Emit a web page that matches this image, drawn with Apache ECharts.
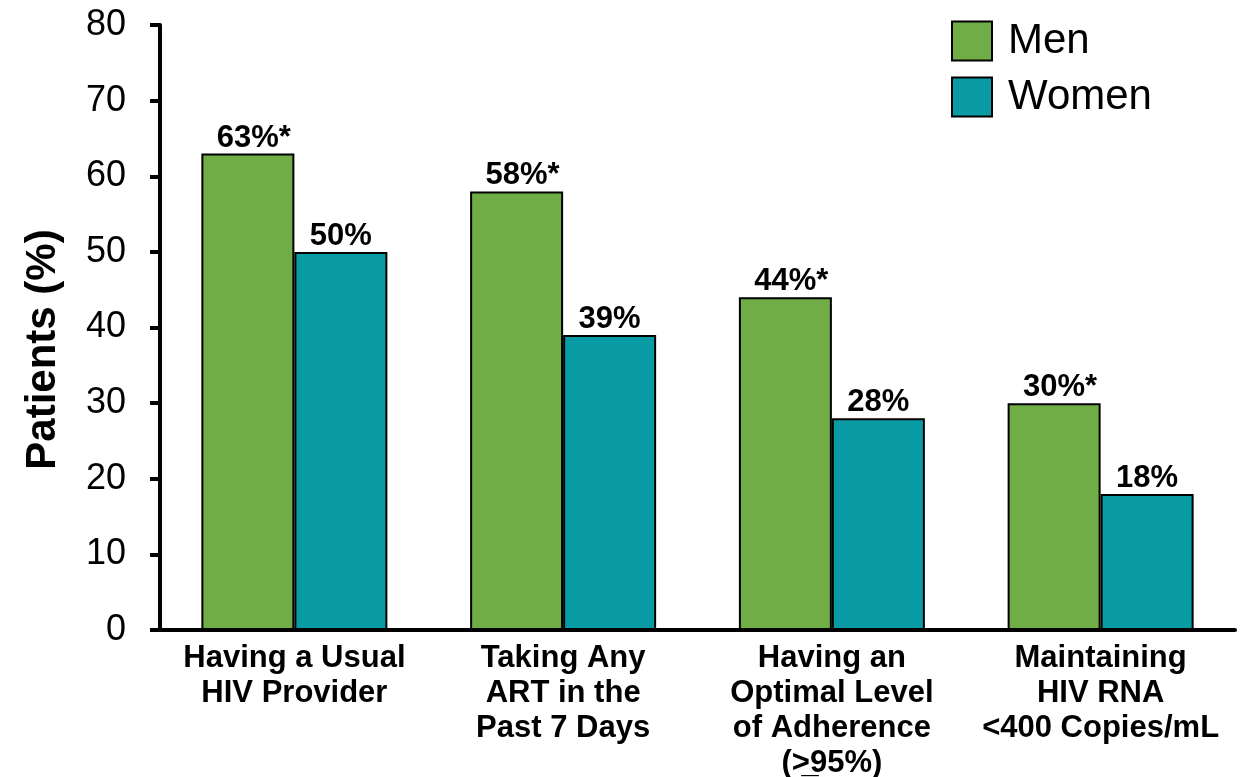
<!DOCTYPE html>
<html>
<head>
<meta charset="utf-8">
<script src="https://cdn.jsdelivr.net/npm/echarts@6/dist/echarts.min.js"></script>
<style>
  html, body { margin: 0; padding: 0; background: #ffffff; }
  #chart { width: 1240px; height: 777px; }
</style>
</head>
<body>
<div id="chart"></div>
<script>
// Care outcomes by sex
const categories = [
  'Having a Usual\nHIV Provider',
  'Taking Any\nART in the\nPast 7 Days',
  'Having an\nOptimal Level\nof Adherence\n(>\u033295%)',
  'Maintaining\nHIV RNA\n<400 Copies/mL'
];
const menValues = [63, 58, 44, 30];
const womenValues = [50, 39, 28, 18];
const yTicks = { min: 0, max: 80, interval: 10 };

const FONT = '"Liberation Sans", Arial, sans-serif';

const chart = echarts.init(document.getElementById('chart'), null, { renderer: 'canvas' });

// value labels above bars; the significance star hangs past the centred percentage
const barLabel = (suffix, padLeft) => ({
  show: true,
  position: 'top',
  distance: 0,
  padding: [0, 0, 0, padLeft],
  formatter: (p) => p.value + suffix,
  fontFamily: FONT,
  fontWeight: 'bold',
  fontSize: 31,
  color: '#000'
});

chart.setOption({
  animation: false,
  backgroundColor: '#ffffff',
  grid: { left: 160, right: 5, top: 25, bottom: 147, containLabel: false, outerBoundsMode: 'none' },
  legend: {
    orient: 'vertical',
    left: 951,
    top: 20,
    padding: 0,
    itemWidth: 40,
    itemHeight: 39,
    itemGap: 14,
    icon: 'rect',
    textStyle: { fontFamily: FONT, fontSize: 42, color: '#000', padding: [0, 0, 0, 11] },
    data: ['Men', 'Women']
  },
  xAxis: {
    type: 'category',
    data: categories,
    axisLine: { show: true, lineStyle: { color: '#000', width: 4 } },
    axisTick: { show: false },
    axisLabel: {
      interval: 0,
      margin: 11,
      fontFamily: FONT,
      fontWeight: 'bold',
      fontSize: 31,
      lineHeight: 35,
      color: '#000'
    }
  },
  yAxis: {
    type: 'value',
    min: yTicks.min,
    max: yTicks.max,
    interval: yTicks.interval,
    name: 'Patients (%)',
    nameLocation: 'middle',
    nameGap: 96,
    nameRotate: 90,
    nameTextStyle: { fontFamily: FONT, fontWeight: 'bold', fontSize: 42, color: '#000', padding: [0, 44, 0, 0] },
    splitLine: { show: false },
    axisLine: { show: true, lineStyle: { color: '#000', width: 4 } },
    axisTick: { show: true, length: 10, inside: false, lineStyle: { color: '#000', width: 4 } },
    axisLabel: { margin: 34, fontFamily: FONT, fontSize: 36, color: '#000' }
  },
  series: [
    {
      name: 'Men',
      type: 'bar',
      data: menValues,
      barWidth: 93,
      barGap: '0%',
      itemStyle: { color: '#70AD47', borderColor: '#000', borderWidth: 2 },
      label: barLabel('%*', 12)
    },
    {
      name: 'Women',
      type: 'bar',
      data: womenValues,
      barWidth: 93,
      barGap: '0%',
      itemStyle: { color: '#0A9CA5', borderColor: '#000', borderWidth: 2 },
      label: barLabel('%', 0)
    }
  ]
});
</script>
</body>
</html>
